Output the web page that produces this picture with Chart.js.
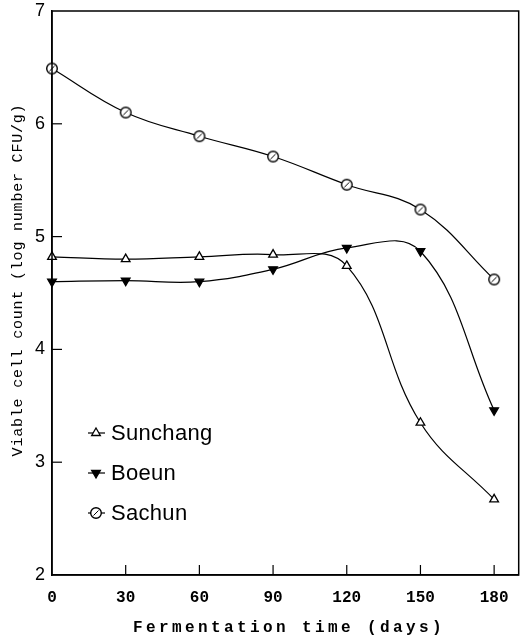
<!DOCTYPE html>
<html>
<head>
<meta charset="utf-8">
<script src="https://cdn.jsdelivr.net/npm/chart.js@4/dist/chart.umd.min.js"></script>
<style>
  html, body { margin: 0; padding: 0; background: #fff; overflow: hidden; }
  #wrap { width: 526px; height: 643px; }
</style>
</head>
<body>
<div id="wrap"><canvas id="chart"></canvas></div>
<script>
// Data
const days = [0, 30, 60, 90, 120, 150, 180];
const sunchang = [4.82, 4.80, 4.82, 4.84, 4.74, 3.35, 2.67];
const boeun = [4.60, 4.61, 4.60, 4.71, 4.90, 4.87, 3.46];
const sachun = [6.49, 6.10, 5.89, 5.71, 5.46, 5.24, 4.62];
const yTicks = [2, 3, 4, 5, 6, 7];

const xTitle = 'Fermentation time (days)';
const yTitle = 'Viable cell count (log number CFU/g)';

// circle with a slash, used for Sachun
function makeSlashCircle() {
    const c = document.createElement('canvas');
    c.width = 14; c.height = 14;
    const g = c.getContext('2d');
    g.fillStyle = '#fff';
    g.strokeStyle = '#000';
    g.lineWidth = 1.4;
    g.beginPath();
    g.arc(7, 7, 5.3, 0, Math.PI * 2);
    g.fill();
    g.stroke();
    g.lineWidth = 1;
    g.beginPath();
    g.moveTo(4.5, 9.5);
    g.lineTo(9.5, 4.5);
    g.stroke();
    return c;
}
const slashCircle = makeSlashCircle();

function toPoints(ys) {
    return days.map((d, i) => ({ x: d, y: ys[i] }));
}

const seriesStyle = [
    { label: 'Sunchang', data: sunchang, pointStyle: 'triangle', pointRotation: 0, pointBackgroundColor: '#fff', pointRadius: 5 },
    { label: 'Boeun', data: boeun, pointStyle: 'triangle', pointRotation: 180, pointBackgroundColor: '#000', pointRadius: 5 },
    { label: 'Sachun', data: sachun, pointStyle: slashCircle, pointRotation: 0, pointBackgroundColor: '#fff', pointRadius: 6 }
];
const legendRows = [433, 473, 513];

const frame = {
    id: 'frame',
    afterDraw(chart) {
        const ctx = chart.ctx;
        const a = chart.chartArea;
        const xs = chart.scales.x;
        const ys = chart.scales.y;
        ctx.save();
        ctx.strokeStyle = '#000';
        ctx.lineWidth = 1.5;
        ctx.strokeRect(a.left, a.top, a.right - a.left, a.bottom - a.top);

        // inward tick marks
        ctx.lineWidth = 1.2;
        days.forEach(d => {
            if (d === 0) return;
            const px = xs.getPixelForValue(d);
            ctx.beginPath();
            ctx.moveTo(px, a.bottom);
            ctx.lineTo(px, a.bottom - 10);
            ctx.stroke();
        });
        yTicks.forEach(v => {
            if (v === 2 || v === 7) return;
            const py = ys.getPixelForValue(v);
            ctx.beginPath();
            ctx.moveTo(a.left, py);
            ctx.lineTo(a.left + 10, py);
            ctx.stroke();
        });

        // axis titles
        ctx.fillStyle = '#000';
        ctx.textAlign = 'center';
        ctx.textBaseline = 'middle';
        ctx.font = 'bold 16px "Liberation Mono"';
        ctx.letterSpacing = '3.4px';
        ctx.fillText(xTitle, 289, 628);

        ctx.save();
        ctx.translate(18, 280);
        ctx.rotate(-Math.PI / 2);
        ctx.font = '15px "Liberation Mono"';
        ctx.letterSpacing = '0.8px';
        ctx.fillText(yTitle, 0, 0);
        ctx.restore();

        // legend inside the plot
        ctx.letterSpacing = '0.3px';
        ctx.font = '22px "Liberation Sans"';
        ctx.textAlign = 'left';
        chart.data.datasets.forEach((ds, i) => {
            const y = legendRows[i];
            ctx.strokeStyle = '#000';
            ctx.lineWidth = 1.2;
            ctx.beginPath();
            ctx.moveTo(88, y);
            ctx.lineTo(105, y);
            ctx.stroke();
            ctx.fillStyle = ds.pointBackgroundColor;
            ctx.lineWidth = 1.3;
            Chart.helpers.drawPoint(ctx, {
                pointStyle: ds.pointStyle,
                rotation: ds.pointRotation,
                radius: ds.pointRadius,
                borderWidth: 1.3
            }, 96, y);
            ctx.fillStyle = '#000';
            ctx.fillText(ds.label, 111, y + 1);
        });
        ctx.restore();
    }
};

new Chart(document.getElementById('chart'), {
    type: 'line',
    data: {
        datasets: seriesStyle.map(s => ({
            label: s.label,
            data: toPoints(s.data),
            borderColor: '#000',
            borderWidth: 1.2,
            tension: 0.4,
            fill: false,
            clip: false,
            pointStyle: s.pointStyle,
            pointRotation: s.pointRotation,
            pointRadius: s.pointRadius,
            pointBackgroundColor: s.pointBackgroundColor,
            pointBorderColor: '#000',
            pointBorderWidth: 1.3
        }))
    },
    options: {
        responsive: true,
        maintainAspectRatio: false,
        animation: false,
        layout: { padding: { top: 11, right: 0, left: 0, bottom: 0 } },
        plugins: {
            legend: { display: false },
            tooltip: { enabled: false }
        },
        scales: {
            x: {
                type: 'linear',
                min: 0,
                max: 190,
                afterBuildTicks: scale => { scale.ticks = days.map(v => ({ value: v })); },
                afterFit: scale => {
                    scale.height = 68;
                    scale.paddingLeft = 0;
                    scale.paddingRight = 0;
                },
                grid: { display: false, drawTicks: false },
                border: { display: true, color: '#000', width: 1.5 },
                ticks: {
                    padding: 13,
                    color: '#000',
                    maxRotation: 0,
                    font: { family: '"Liberation Mono"', size: 16, weight: 'bold' }
                }
            },
            y: {
                min: 2,
                max: 7,
                afterBuildTicks: scale => { scale.ticks = yTicks.map(v => ({ value: v })); },
                afterFit: scale => {
                    scale.width = 52;
                    scale.paddingTop = 0;
                    scale.paddingBottom = 0;
                },
                grid: { display: false, drawTicks: false },
                border: { display: true, color: '#000', width: 1.5 },
                ticks: {
                    padding: 7,
                    color: '#000',
                    font: { family: '"Liberation Sans"', size: 18 }
                }
            }
        }
    },
    plugins: [frame]
});
</script>
</body>
</html>
